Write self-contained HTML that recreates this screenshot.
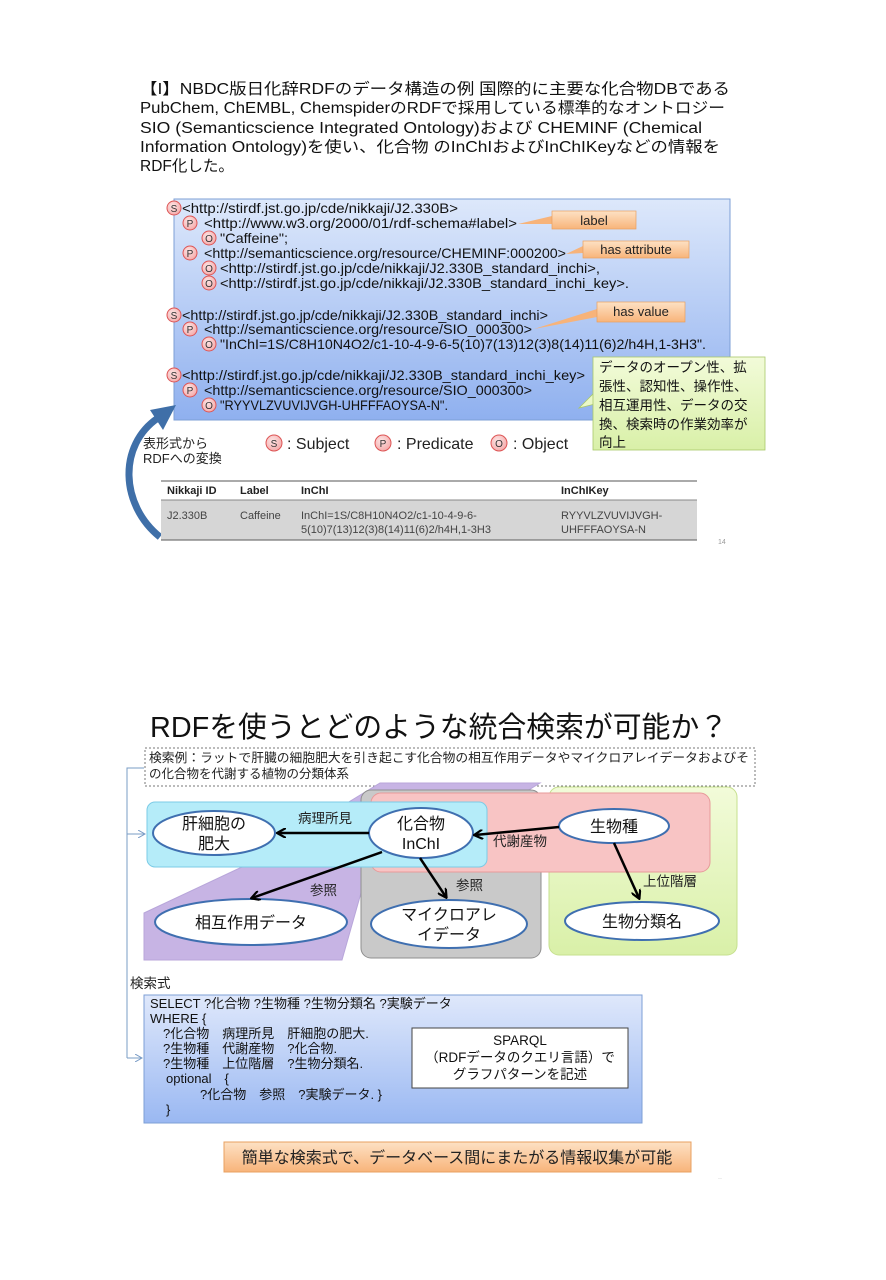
<!DOCTYPE html>
<html><head><meta charset="utf-8"><style>
html,body{margin:0;padding:0;background:#fff;}
svg{display:block;font-family:"Liberation Sans","Noto Sans CJK JP",sans-serif;}
</style></head><body>
<svg width="886" height="1280" viewBox="0 0 886 1280" xmlns="http://www.w3.org/2000/svg">
<defs>
<linearGradient id="bl" x1="0" y1="0" x2="0" y2="1"><stop offset="0" stop-color="#dde8fb"/><stop offset="1" stop-color="#8fb0ef"/></linearGradient>
<linearGradient id="bl2" x1="0" y1="0" x2="0" y2="1"><stop offset="0" stop-color="#dfe8fb"/><stop offset="1" stop-color="#9ab8f2"/></linearGradient>
<linearGradient id="or" x1="0" y1="0" x2="0" y2="1"><stop offset="0" stop-color="#fde1c4"/><stop offset="1" stop-color="#f8b47a"/></linearGradient>
<linearGradient id="gr" x1="0" y1="0" x2="0" y2="1"><stop offset="0" stop-color="#f2fbd9"/><stop offset="1" stop-color="#d9f0a8"/></linearGradient>
<radialGradient id="pk" cx="0.4" cy="0.35" r="0.7"><stop offset="0" stop-color="#fde4e4"/><stop offset="1" stop-color="#f4a9a9"/></radialGradient>
<marker id="ah" markerWidth="10" markerHeight="10" refX="8" refY="5" orient="auto" markerUnits="userSpaceOnUse"><path d="M0,0 L9,5 L0,10" fill="none" stroke="#000" stroke-width="2.2"/></marker>
<marker id="ag" markerWidth="8" markerHeight="8" refX="7" refY="4" orient="auto" markerUnits="userSpaceOnUse"><path d="M0,0 L7,4 L0,8" fill="none" stroke="#7a9cc6" stroke-width="1"/></marker>
</defs>

<!-- header -->
<g font-size="15.5" fill="#111">
<text x="140" y="94" textLength="590" lengthAdjust="spacingAndGlyphs">【I】NBDC版日化辞RDFのデータ構造の例 国際的に主要な化合物DBである</text>
<text x="140" y="113" textLength="585" lengthAdjust="spacingAndGlyphs">PubChem, ChEMBL, ChemspiderのRDFで採用している標準的なオントロジー</text>
<text x="140" y="133" textLength="562" lengthAdjust="spacingAndGlyphs">SIO (Semanticscience Integrated Ontology)および CHEMINF (Chemical</text>
<text x="140" y="152" textLength="580" lengthAdjust="spacingAndGlyphs">Information Ontology)を使い、化合物 のInChIおよびInChIKeyなどの情報を</text>
<text x="140" y="171">RDF化した。</text>
</g>

<!-- RDF box -->
<rect x="174" y="199" width="556" height="221" fill="url(#bl)" stroke="#7d9fd6" stroke-width="1"/>
<g font-size="14" fill="#111" lengthAdjust="spacingAndGlyphs">
<text x="182" y="213" textLength="276" lengthAdjust="spacingAndGlyphs">&lt;http://stirdf.jst.go.jp/cde/nikkaji/J2.330B&gt;</text>
<text x="204" y="228" textLength="313" lengthAdjust="spacingAndGlyphs">&lt;http://www.w3.org/2000/01/rdf-schema#label&gt;</text>
<text x="220" y="243" textLength="68" lengthAdjust="spacingAndGlyphs">"Caffeine";</text>
<text x="204" y="258" textLength="362" lengthAdjust="spacingAndGlyphs">&lt;http://semanticscience.org/resource/CHEMINF:000200&gt;</text>
<text x="220" y="273" textLength="380" lengthAdjust="spacingAndGlyphs">&lt;http://stirdf.jst.go.jp/cde/nikkaji/J2.330B_standard_inchi&gt;,</text>
<text x="220" y="288" textLength="409" lengthAdjust="spacingAndGlyphs">&lt;http://stirdf.jst.go.jp/cde/nikkaji/J2.330B_standard_inchi_key&gt;.</text>
<text x="182" y="320" textLength="366" lengthAdjust="spacingAndGlyphs">&lt;http://stirdf.jst.go.jp/cde/nikkaji/J2.330B_standard_inchi&gt;</text>
<text x="204" y="334" textLength="328" lengthAdjust="spacingAndGlyphs">&lt;http://semanticscience.org/resource/SIO_000300&gt;</text>
<text x="220" y="349" textLength="486" lengthAdjust="spacingAndGlyphs">"InChI=1S/C8H10N4O2/c1-10-4-9-6-5(10)7(13)12(3)8(14)11(6)2/h4H,1-3H3".</text>
<text x="182" y="380" textLength="403" lengthAdjust="spacingAndGlyphs">&lt;http://stirdf.jst.go.jp/cde/nikkaji/J2.330B_standard_inchi_key&gt;</text>
<text x="204" y="395" textLength="328" lengthAdjust="spacingAndGlyphs">&lt;http://semanticscience.org/resource/SIO_000300&gt;</text>
<text x="220" y="410" textLength="228" lengthAdjust="spacingAndGlyphs">"RYYVLZVUVIJVGH-UHFFFAOYSA-N".</text>
</g>
<g stroke="#d55" stroke-width="1" fill="url(#pk)">
<circle cx="174" cy="208" r="7"/><circle cx="190" cy="223" r="7"/><circle cx="209" cy="238" r="7"/><circle cx="190" cy="253" r="7"/><circle cx="209" cy="268" r="7"/><circle cx="209" cy="283" r="7"/><circle cx="174" cy="315" r="7"/><circle cx="190" cy="329" r="7"/><circle cx="209" cy="344" r="7"/><circle cx="174" cy="375" r="7"/><circle cx="190" cy="390" r="7"/><circle cx="209" cy="405" r="7"/>
</g>
<g font-size="10" text-anchor="middle" fill="#333">
<text x="174" y="212">S</text><text x="190" y="227">P</text><text x="209" y="242">O</text><text x="190" y="257">P</text><text x="209" y="272">O</text><text x="209" y="287">O</text><text x="174" y="319">S</text><text x="190" y="333">P</text><text x="209" y="348">O</text><text x="174" y="379">S</text><text x="190" y="394">P</text><text x="209" y="409">O</text>
</g>

<!-- callouts -->
<polygon points="518,224 552,216 552,224" fill="#f7b37a"/>
<rect x="552" y="211" width="84" height="18" fill="url(#or)" stroke="#e8a060" stroke-width="0.7"/>
<text x="594" y="225" font-size="13" text-anchor="middle" fill="#222">label</text>
<polygon points="566,254 583,246 583,253" fill="#f7b37a"/>
<rect x="583" y="241" width="106" height="17" fill="url(#or)" stroke="#e8a060" stroke-width="0.7"/>
<text x="636" y="254" font-size="13" text-anchor="middle" fill="#222">has attribute</text>
<polygon points="534,329 597,309 597,317" fill="#f7b37a"/>
<rect x="597" y="302" width="88" height="20" fill="url(#or)" stroke="#e8a060" stroke-width="0.7"/>
<text x="641" y="316" font-size="13" text-anchor="middle" fill="#222">has value</text>

<polygon points="579,408 595,392 595,404" fill="#eaf8c8" stroke="#a9c86a" stroke-width="0.8"/>
<rect x="593" y="357" width="172" height="93" fill="url(#gr)" stroke="#a9c86a" stroke-width="0.8"/>
<g font-size="13.5" fill="#111">
<text x="599" y="372">データのオープン性、拡</text>
<text x="599" y="391">張性、認知性、操作性、</text>
<text x="599" y="410">相互運用性、データの交</text>
<text x="599" y="429">換、検索時の作業効率が</text>
<text x="599" y="447">向上</text>
</g>

<!-- legend -->
<g font-size="13" fill="#222">
<text x="143" y="448">表形式から</text>
<text x="143" y="463">RDFへの変換</text>
</g>
<g stroke="#d55" fill="url(#pk)"><circle cx="274" cy="443" r="8"/><circle cx="383" cy="443" r="8"/><circle cx="499" cy="443" r="8"/></g>
<g font-size="10" text-anchor="middle" fill="#333"><text x="274" y="447">S</text><text x="383" y="447">P</text><text x="499" y="447">O</text></g>
<g font-size="16" fill="#222"><text x="287" y="449">: Subject</text><text x="397" y="449">: Predicate</text><text x="513" y="449">: Object</text></g>

<!-- curved arrow -->
<path d="M160,537 C120,505 118,445 158,418" fill="none" stroke="#3f6fa8" stroke-width="7"/>
<polygon points="176,405 150,410 163,430" fill="#3f6fa8"/>

<!-- table -->
<line x1="161" y1="481" x2="697" y2="481" stroke="#777" stroke-width="1.2"/>
<rect x="161" y="500" width="536" height="40" fill="#d6d6d6"/>
<line x1="161" y1="500" x2="697" y2="500" stroke="#888" stroke-width="1"/>
<line x1="161" y1="540" x2="697" y2="540" stroke="#777" stroke-width="1.2"/>
<g font-size="11" font-weight="bold" fill="#222"><text x="167" y="494">Nikkaji ID</text><text x="240" y="494">Label</text><text x="301" y="494">InChI</text><text x="561" y="494">InChIKey</text></g>
<g font-size="11" fill="#444"><text x="167" y="519">J2.330B</text><text x="240" y="519">Caffeine</text><text x="301" y="519">InChI=1S/C8H10N4O2/c1-10-4-9-6-</text><text x="301" y="533">5(10)7(13)12(3)8(14)11(6)2/h4H,1-3H3</text><text x="561" y="519">RYYVLZVUVIJVGH-</text><text x="561" y="533">UHFFFAOYSA-N</text></g>
<text x="718" y="544" font-size="7" fill="#999">14</text>

<!-- bottom slide -->
<text x="150" y="737" font-size="29" fill="#111" textLength="578" lengthAdjust="spacingAndGlyphs">RDFを使うとどのような統合検索が可能か？</text>
<rect x="145" y="748" width="610" height="38" fill="none" stroke="#777" stroke-dasharray="2,2"/>
<g font-size="12.5" fill="#222"><text x="149" y="762" textLength="600" lengthAdjust="spacingAndGlyphs">検索例：ラットで肝臓の細胞肥大を引き起こす化合物の相互作用データやマイクロアレイデータおよびそ</text><text x="149" y="778">の化合物を代謝する植物の分類体系</text></g>

<polyline points="144,768 127,768 127,1058" fill="none" stroke="#7a9cc6" stroke-width="1"/>
<line x1="127" y1="834" x2="145" y2="834" stroke="#7a9cc6" marker-end="url(#ag)"/>
<line x1="127" y1="1058" x2="142" y2="1058" stroke="#7a9cc6" marker-end="url(#ag)"/>

<!-- region shapes -->
<polygon points="144,913 242,867 380,783 540,783 361,893 342,960 144,960" fill="#c7b4e4" stroke="#b8a6da"/>
<rect x="549" y="787" width="188" height="168" rx="10" fill="url(#gr)" stroke="#c6e08e"/>
<rect x="361" y="790" width="180" height="168" rx="10" fill="#c9c9c9" stroke="#8f8f8f"/>
<rect x="371" y="793" width="339" height="79" rx="10" fill="#f8c4c4" stroke="#e79a9a"/>
<rect x="147" y="802" width="340" height="65" rx="8" fill="#b5ecf9" stroke="#7ccbe6"/>

<!-- ellipses -->
<g fill="#fff" stroke="#3f6fb0" stroke-width="2">
<ellipse cx="214" cy="833" rx="61" ry="22"/>
<ellipse cx="421" cy="833" rx="52" ry="25"/>
<ellipse cx="614" cy="826" rx="55" ry="17"/>
<ellipse cx="251" cy="922" rx="96" ry="23"/>
<ellipse cx="449" cy="924" rx="78" ry="24"/>
<ellipse cx="642" cy="921" rx="77" ry="19"/>
</g>
<g font-size="16" fill="#111" text-anchor="middle">
<text x="214" y="829">肝細胞の</text><text x="214" y="849">肥大</text>
<text x="421" y="829">化合物</text><text x="421" y="849">InChI</text>
<text x="614" y="832">生物種</text>
<text x="251" y="928">相互作用データ</text>
<text x="449" y="920">マイクロアレ</text><text x="449" y="940">イデータ</text>
<text x="642" y="927">生物分類名</text>
</g>

<!-- arrows -->
<g stroke="#000" stroke-width="2.5" fill="none" marker-end="url(#ah)">
<line x1="369" y1="833" x2="278" y2="833"/>
<line x1="559" y1="827" x2="475" y2="835"/>
<line x1="382" y1="852" x2="252" y2="898"/>
<line x1="420" y1="858" x2="446" y2="897"/>
<line x1="614" y1="843" x2="639" y2="898"/>
</g>
<g font-size="13.5" fill="#222">
<text x="298" y="823">病理所見</text>
<text x="493" y="846">代謝産物</text>
<text x="310" y="895">参照</text>
<text x="456" y="890">参照</text>
<text x="643" y="886">上位階層</text>
<text x="130" y="988">検索式</text>
</g>

<!-- SPARQL -->
<rect x="144" y="995" width="498" height="128" fill="url(#bl2)" stroke="#7d9fd6"/>
<g font-size="13" fill="#111">
<text x="150" y="1008">SELECT ?化合物 ?生物種 ?生物分類名 ?実験データ</text>
<text x="150" y="1023">WHERE {</text>
<text x="163" y="1038">?化合物　病理所見　肝細胞の肥大.</text>
<text x="163" y="1053">?生物種　代謝産物　?化合物.</text>
<text x="163" y="1068">?生物種　上位階層　?生物分類名.</text>
<text x="166" y="1083">optional　{</text>
<text x="200" y="1099">?化合物　参照　?実験データ. }</text>
<text x="166" y="1114">}</text>
</g>
<rect x="412" y="1028" width="216" height="60" fill="#fff" stroke="#444"/>
<g font-size="13.5" fill="#111" text-anchor="middle"><text x="520" y="1045">SPARQL</text><text x="520" y="1062">（RDFデータのクエリ言語）で</text><text x="520" y="1079">グラフパターンを記述</text></g>

<rect x="224" y="1142" width="467" height="30" fill="url(#or)" stroke="#e8a060"/>
<text x="457" y="1163" font-size="16" fill="#222" text-anchor="middle">簡単な検索式で、データベース間にまたがる情報収集が可能</text>
<text x="718" y="1180" font-size="6" fill="#aaa">··</text>
</svg>
</body></html>
